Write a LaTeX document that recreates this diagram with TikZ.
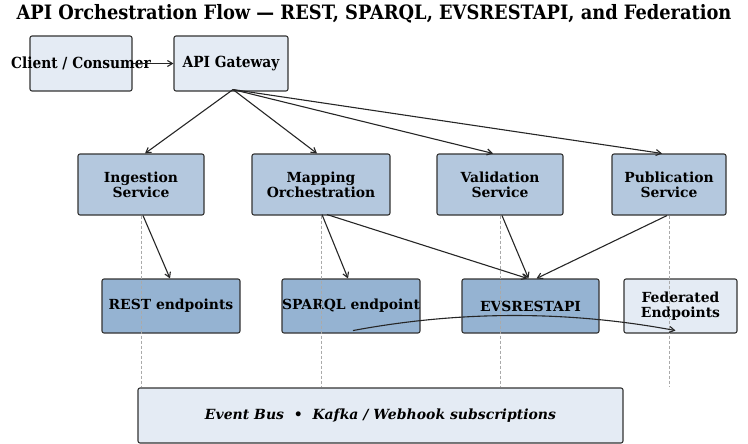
\documentclass[tikz,border=0pt]{standalone}
\usepackage{fontspec}
\setmainfont{DejaVu Serif}
\newfontfamily\condfont{DejaVu Serif Condensed}
\usetikzlibrary{arrows.meta,calc}
\definecolor{lightfill}{HTML}{E4EBF4}
\definecolor{midfill}{HTML}{B4C8DE}
\definecolor{darkfill}{HTML}{95B3D2}
\definecolor{edgecol}{HTML}{333333}
\definecolor{dashcol}{HTML}{AAAAAA}
\tikzset{
  box/.style={draw=edgecol, line width=1.1pt, rounded corners=2pt, inner sep=0pt, align=center, font=\bfseries\fontsize{13.9}{15}\selectfont},
  lightbox/.style={box, fill=lightfill},
  midbox/.style={box, fill=midfill},
  darkbox/.style={box, fill=darkfill},
  toplabel/.style={font=\condfont\bfseries\fontsize{15.3}{17}\selectfont, inner sep=0pt},
  conn/.style={draw=black!85, line width=1.1pt, -{Straight Barb[length=5pt,width=6pt]}},
  guide/.style={draw=dashcol, line width=0.8pt, dashed, dash pattern=on 3pt off 2pt}
}
\begin{document}
\begin{tikzpicture}[x=1pt,y=-1pt]
\useasboundingbox (0,0) rectangle (748,444);
% title
\node[font=\condfont\bfseries\fontsize{19.8}{22}\selectfont, inner sep=0pt] (title) at (374,14) {API Orchestration Flow — REST, SPARQL, EVSRESTAPI, and Federation};
% top row
\node[lightbox, minimum width=102pt, minimum height=55pt] (client) at (81,63.5) {};
\node[lightbox, minimum width=114pt, minimum height=55pt] (gw) at (231,63.5) {};
\node[toplabel] (clienttxt) at (client.center) {Client / Consumer};
\node[toplabel] (gwtxt) at (gw.center) {API Gateway};
% row 2
\node[midbox, minimum width=126pt, minimum height=61pt] (ing) at (141,184.5) {Ingestion\\Service};
\node[midbox, minimum width=138pt, minimum height=61pt] (map) at (321,184.5) {Mapping\\Orchestration};
\node[midbox, minimum width=126pt, minimum height=61pt] (val) at (500,184.5) {Validation\\Service};
\node[midbox, minimum width=114pt, minimum height=61pt] (pub) at (669,184.5) {Publication\\Service};
% row 3
\node[darkbox, minimum width=138pt, minimum height=54pt] (rest) at (171,306) {REST endpoints};
\node[darkbox, minimum width=138pt, minimum height=54pt] (sparql) at (351,306) {};
\node[font=\bfseries\fontsize{13.9}{15}\selectfont, inner sep=0pt] (sparqltxt) at (sparql.center) {SPARQL endpoint};
\node[darkbox, minimum width=137pt, minimum height=54pt] (evs) at (530.5,306) {EVSRESTAPI};
\node[lightbox, minimum width=113pt, minimum height=54pt] (fed) at (680.5,306) {Federated\\Endpoints};
% event bus
\node[lightbox, minimum width=485pt, minimum height=55pt, font=\bfseries\itshape\fontsize{14}{16}\selectfont] (bus) at (380.5,415.5) {Event Bus \ \textbullet\ \ Kafka / Webhook subscriptions};
% dashed guides
\foreach \n in {ing,map,val,pub}{
  \draw[guide] (\n.south) -- (\n.south |- bus.north);
}
% connectors
\draw[conn] (client.east) -- (gw.west);
\coordinate (gwsrc) at ($(gw.south)+(2,-2)$);
\draw[conn] (gwsrc) -- ($(ing.north)+(4,0)$);
\draw[conn] (gwsrc) -- ($(map.north)+(-4,0)$);
\draw[conn] (gwsrc) -- ($(val.north)+(-7,0)$);
\draw[conn] (gwsrc) -- ($(pub.north)+(-7,0)$);
\draw[conn] ($(ing.south)+(2,0)$) -- ($(rest.north)+(-1,0)$);
\draw[conn] ($(map.south)+(1,-1)$) -- ($(sparql.north)+(-3,0)$);
\draw[conn] ($(map.south)+(6,-1)$) -- ($(evs.north)+(-3,0)$);
\draw[conn] ($(val.south)+(2,0)$) -- ($(evs.north)+(-2,0)$);
\draw[conn] ($(pub.south)+(-2,0)$) -- ($(evs.north)+(6,0)$);
\draw[conn] ($(sparql.south)+(2,-3)$) .. controls ($(sparql.south)+(109,-23)$) and ($(fed.south)+(-112,-23)$) .. ($(fed.south)+(-5,-3)$);
\end{tikzpicture}
\end{document}
